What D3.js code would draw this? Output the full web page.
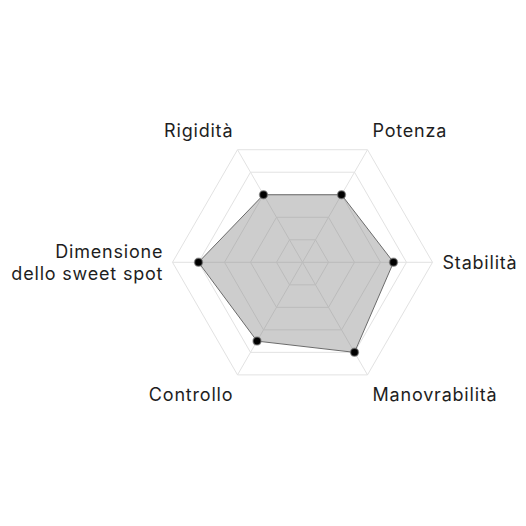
<!DOCTYPE html>
<html>
<head>
<meta charset="utf-8">
<script src="https://cdn.jsdelivr.net/npm/d3@7"></script>
<style>
  body { margin: 0; background: #fff; }
  text { font-family: Inter, "Noto Sans", sans-serif; fill: #1e1e1e; }
</style>
</head>
<body>
<svg id="radar" width="526" height="526"></svg>
<script>
var labels = [["Stabilità"], ["Manovrabilità"], ["Controllo"], ["Dimensione", "dello sweet spot"], ["Rigidità"], ["Potenza"]];
var values = [3.5, 4, 3.5, 4, 3, 3];
var levels = [1, 2, 3, 4, 5];

var svg = d3.select("#radar");
var cx = 302.5, cy = 262.3, radius = 130;
var g = svg.append("g").attr("transform", `translate(${cx}, ${cy})`);

var rScale = d3.scaleLinear().domain([0, 5]).range([0, radius]);
var angle = d3.scaleLinear().domain([0, labels.length]).range([0, 2 * Math.PI]);

function pt(i, v) {
  var a = angle(i);
  return [rScale(v) * Math.cos(a), rScale(v) * Math.sin(a)];
}

// grid rings
g.selectAll(".ring")
  .data(levels)
  .enter()
  .append("polygon")
  .attr("points", lv => labels.map((d, i) => pt(i, lv).join(",")).join(" "))
  .attr("fill", "none")
  .attr("stroke", "#e2e2e2")
  .attr("stroke-width", 1);

// spokes
g.selectAll(".spoke")
  .data(labels)
  .enter()
  .append("line")
  .attr("x1", 0).attr("y1", 0)
  .attr("x2", (d, i) => pt(i, 5)[0])
  .attr("y2", (d, i) => pt(i, 5)[1])
  .attr("stroke", "#e2e2e2")
  .attr("stroke-width", 1);

// data area
var line = d3.line()
  .x((d, i) => pt(i, d)[0])
  .y((d, i) => pt(i, d)[1])
  .curve(d3.curveLinearClosed);

g.append("path")
  .datum(values)
  .attr("d", line)
  .attr("fill", "rgba(130,130,130,0.4)")
  .attr("stroke", "#6b6b6b")
  .attr("stroke-width", 1);

g.selectAll(".dot")
  .data(values)
  .enter()
  .append("circle")
  .attr("cx", (d, i) => pt(i, d)[0])
  .attr("cy", (d, i) => pt(i, d)[1])
  .attr("r", 4)
  .attr("fill", "#000")
  .attr("stroke", "rgba(120,120,120,0.6)")
  .attr("stroke-width", 1.5);

// point labels (placed just outside the outer ring)
var fontSize = 18, lineH = 22;
labels.forEach(function (lines, i) {
  var a = angle(i);
  var lx = (radius + 10) * Math.cos(a), ly = (radius + 10) * Math.sin(a);
  var c = Math.cos(a), s = Math.sin(a);
  var anchor = Math.abs(c) < 0.01 ? "middle" : (c > 0 ? "start" : "end");
  var n = lines.length;
  var top;
  if (Math.abs(s) < 0.01) top = ly - n * lineH / 2;
  else if (s < 0) top = ly - n * lineH;
  else top = ly;
  var t = g.append("text")
    .attr("text-anchor", anchor)
    .style("font-size", fontSize + "px")
    .style("letter-spacing", "0.8px");
  lines.forEach(function (txt, k) {
    t.append("tspan")
      .attr("x", anchor === "end" ? lx + 0.8 : lx)
      .attr("y", top + k * lineH + lineH / 2)
      .attr("dominant-baseline", "central")
      .text(txt);
  });
});
</script>
</body>
</html>
